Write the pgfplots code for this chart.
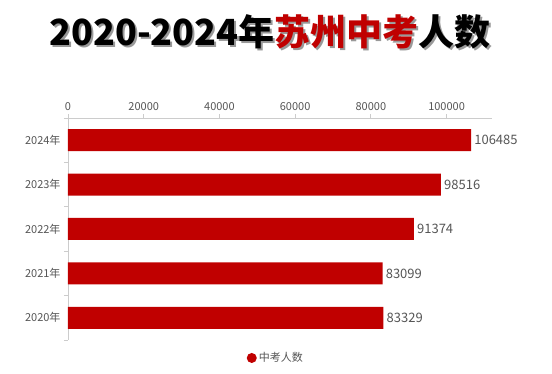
\documentclass[border=0pt]{standalone}
\usepackage{fontspec}
\setmainfont{Noto Sans CJK SC}
\usepackage{pgfplots}
\pgfplotsset{compat=1.18}
\definecolor{barred}{RGB}{192,0,0}
\definecolor{txt}{RGB}{85,85,85}
\definecolor{axl}{RGB}{204,204,204}
\begin{document}
\begin{tikzpicture}[x=1pt,y=1pt]
\useasboundingbox (0,0) rectangle (552,374);
\node[text=black!40, font=\fontsize{36}{38}\selectfont\bfseries, inner sep=0] at (272,340) {2020-2024年苏州中考人数};
\node[text=black, font=\fontsize{36}{38}\selectfont\bfseries, inner sep=0] at (270,342) {2020-2024年\textcolor{barred}{苏州中考}人数};
\begin{axis}[
  at={(68pt,34pt)}, anchor=south west,
  scale only axis, width=424pt, height=222pt,
  xbar, bar width=22pt,
  xmin=0, xmax=112000, ymin=-0.5, ymax=4.5,
  axis x line*=top, axis y line*=left,
  axis line style={-, draw=axl, line width=0.8pt},
  tick align=outside,
  major tick length=4pt, minor tick length=4pt,
  scaled x ticks=false,
  xtick={0,20000,40000,60000,80000,100000},
  xticklabels={0,20000,40000,60000,80000,100000},
  xticklabel style={font=\fontsize{11}{12}\selectfont, text=txt},
  ytick={0,1,2,3,4},
  yticklabels={2020年,2021年,2022年,2023年,2024年},
  yticklabel style={font=\fontsize{11}{12}\selectfont, text=txt},
  minor ytick={-0.5,0.5,1.5,2.5,3.5,4.5},
  major x tick style={draw=axl, line width=0.8pt},
  major y tick style={draw=none},
  minor y tick style={draw=axl, line width=0.8pt},
  point meta=explicit symbolic,
  nodes near coords={\pgfplotspointmeta},
  nodes near coords style={font=\fontsize{13}{14}\selectfont, text=txt, anchor=west, inner sep=3pt},
  legend style={draw=none, at={(0.49,-0.081)}, anchor=center, font=\fontsize{11}{12}\selectfont, text=txt},
  legend image code/.code={\fill[barred] (3pt,0pt) circle (5pt);},
]
\addplot[fill=barred, draw=none] coordinates {(83329,0) [83329] (83099,1) [83099] (91374,2) [91374] (98516,3) [98516] (106485,4) [106485]};
\legend{中考人数}
\end{axis}
\end{tikzpicture}
\end{document}
